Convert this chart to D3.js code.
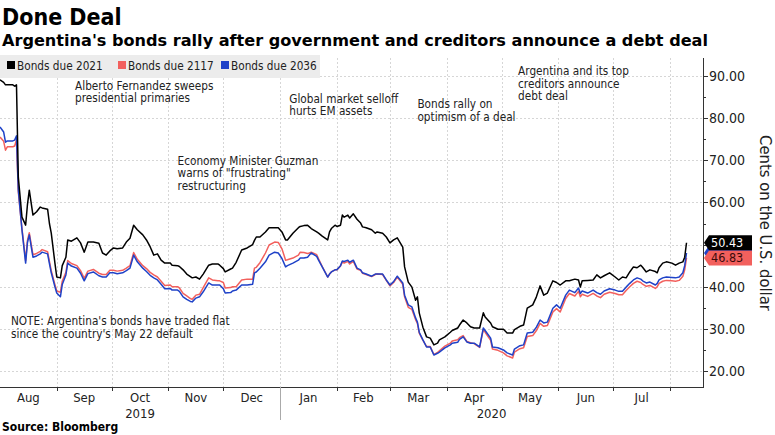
<!DOCTYPE html>
<html><head><meta charset="utf-8">
<script src="https://cdn.jsdelivr.net/npm/d3@7/dist/d3.min.js"></script>
<style>
body{margin:0;background:#fff}
svg{display:block}
text{font-family:"DejaVu Sans Condensed","DejaVu Sans",sans-serif}
</style>
</head><body>
<svg id="chart" width="775" height="435"></svg>
<script>
// ---------------- data ----------------
const dates = [
 "2019-08-01","2019-08-03","2019-08-04","2019-08-05","2019-08-08","2019-08-09","2019-08-10","2019-08-11","2019-08-13","2019-08-15","2019-08-16","2019-08-17","2019-08-19","2019-08-21","2019-08-23","2019-08-24","2019-08-27","2019-08-28","2019-08-29","2019-08-31",
 "2019-09-01","2019-09-03","2019-09-04","2019-09-06","2019-09-07","2019-09-09","2019-09-12","2019-09-14","2019-09-16","2019-09-18","2019-09-21","2019-09-24","2019-09-26","2019-09-28","2019-09-30",
 "2019-10-02","2019-10-04","2019-10-07","2019-10-09","2019-10-11","2019-10-13","2019-10-15","2019-10-18","2019-10-20","2019-10-22","2019-10-24","2019-10-26","2019-10-28","2019-10-30",
 "2019-11-02","2019-11-03","2019-11-06","2019-11-07","2019-11-09","2019-11-11","2019-11-13","2019-11-14","2019-11-16","2019-11-18","2019-11-20","2019-11-23","2019-11-25","2019-11-28","2019-11-29",
 "2019-12-01","2019-12-02","2019-12-05","2019-12-06","2019-12-08","2019-12-11","2019-12-14","2019-12-17","2019-12-18","2019-12-19","2019-12-21","2019-12-24","2019-12-26","2019-12-29","2019-12-31",
 "2020-01-02","2020-01-04","2020-01-05","2020-01-08","2020-01-11","2020-01-12","2020-01-14","2020-01-16","2020-01-17","2020-01-18","2020-01-21","2020-01-22","2020-01-24","2020-01-27","2020-01-28","2020-01-29","2020-01-31",
 "2020-02-01","2020-02-03","2020-02-04","2020-02-05","2020-02-07","2020-02-08","2020-02-10","2020-02-12","2020-02-14","2020-02-15","2020-02-17","2020-02-20","2020-02-22","2020-02-23","2020-02-26","2020-02-28",
 "2020-03-01","2020-03-03","2020-03-05","2020-03-08","2020-03-09","2020-03-11","2020-03-13","2020-03-15","2020-03-16","2020-03-17","2020-03-19","2020-03-21","2020-03-23","2020-03-25","2020-03-27","2020-03-28","2020-03-31",
 "2020-04-03","2020-04-04","2020-04-07","2020-04-08","2020-04-10","2020-04-12","2020-04-14","2020-04-16","2020-04-19","2020-04-21","2020-04-22","2020-04-25","2020-04-26","2020-04-29",
 "2020-05-02","2020-05-04","2020-05-07","2020-05-08","2020-05-11","2020-05-13","2020-05-15","2020-05-18","2020-05-20","2020-05-22","2020-05-24","2020-05-26","2020-05-29","2020-05-31",
 "2020-06-02","2020-06-05","2020-06-07","2020-06-10","2020-06-12","2020-06-13","2020-06-14","2020-06-17","2020-06-20","2020-06-22","2020-06-24","2020-06-26","2020-06-29",
 "2020-07-02","2020-07-04","2020-07-06","2020-07-08","2020-07-10","2020-07-12","2020-07-14","2020-07-16","2020-07-17","2020-07-19","2020-07-21","2020-07-24","2020-07-25","2020-07-26","2020-07-28","2020-07-30",
 "2020-08-02","2020-08-04","2020-08-06","2020-08-08","2020-08-09","2020-08-10"
];
const bonds2021 = [
 89.1,88.5,87.9,87.9,87.9,87.6,87.9,66.0,56.5,54.6,59.5,62.9,57.0,57.8,58.9,58.7,58.4,55.0,52.7,45.6,
 42.3,42.1,45.0,47.0,51.1,50.8,51.6,50.4,48.2,50.6,50.6,50.3,48.0,47.5,48.5,
 49.2,49.0,49.2,50.6,51.5,54.6,53.5,52.3,51.1,49.5,47.5,47.8,46.3,45.6,
 45.6,45.1,45.0,44.8,44.0,43.0,42.4,42.1,42.3,41.8,43.0,45.1,45.4,45.4,45.1,
 44.3,43.5,44.2,44.4,45.8,48.7,49.2,50.0,51.0,51.8,51.8,53.0,54.0,54.0,54.0,
 53.0,51.1,51.1,52.7,54.0,54.3,54.5,54.6,54.2,53.8,53.0,52.7,52.0,51.1,53.0,53.8,54.6,
 54.3,54.6,57.0,56.5,57.0,56.3,57.3,56.0,55.1,54.2,54.0,53.5,52.7,53.0,52.7,51.8,
 50.4,51.1,51.6,49.4,44.7,41.1,39.9,36.8,37.6,33.8,30.4,28.1,27.8,26.2,26.6,27.4,28.1,
 29.2,29.6,30.2,30.9,32.1,31.4,30.5,30.2,30.2,33.8,32.8,31.4,30.5,29.9,
 29.9,29.0,29.0,29.8,30.6,30.9,34.9,35.7,37.6,40.2,38.0,38.5,41.4,41.0,
 40.4,41.4,41.4,41.8,41.6,39.9,41.4,41.5,41.6,42.8,42.1,42.6,43.3,
 42.3,41.6,42.3,42.1,43.5,44.7,44.5,45.1,44.6,43.5,44.0,43.6,43.3,44.5,45.6,45.9,
 45.6,45.1,45.6,45.9,47.0,50.43
];
const bonds2117 = [
 75.5,74.5,72.4,73.2,73.2,73.4,74.8,62.5,53.8,46.2,51.0,52.8,47.6,47.9,48.4,48.8,48.3,46.0,43.8,40.5,
 39.0,38.7,41.3,43.4,46.2,45.5,45.0,43.8,42.0,43.7,44.1,43.2,42.9,42.9,43.9,
 43.9,43.7,43.9,44.4,45.0,48.1,46.5,45.0,44.3,43.4,42.8,42.3,41.3,40.3,
 40.4,40.0,40.0,39.7,38.4,37.8,37.2,37.0,38.0,38.2,39.8,42.1,41.6,41.4,41.4,
 41.0,39.7,39.8,40.0,40.0,41.6,41.8,41.8,44.4,44.6,45.7,48.0,49.9,50.6,50.5,
 49.0,46.3,46.4,46.8,47.5,48.2,48.1,47.9,48.0,48.2,47.6,46.6,44.8,42.3,43.0,43.5,44.0,
 44.0,44.9,45.9,45.6,46.0,45.4,46.0,44.2,43.9,43.2,42.9,42.4,42.9,43.0,42.9,41.5,
 40.2,41.0,42.3,40.6,37.6,35.1,34.6,32.2,31.3,29.0,27.3,25.8,25.8,23.9,24.4,24.8,25.9,
 26.6,27.1,27.4,27.9,28.4,27.0,26.7,26.5,25.6,29.9,29.2,27.3,25.2,24.9,
 24.3,23.6,23.1,24.5,25.3,25.5,28.2,28.4,29.6,31.3,30.6,30.8,34.0,34.8,
 34.0,37.2,38.4,37.8,38.9,37.6,38.2,37.7,38.4,37.8,37.4,38.2,38.7,
 38.4,38.1,38.1,39.1,40.0,40.8,41.3,41.0,40.6,40.1,40.3,39.6,40.0,40.8,41.3,41.5,
 41.4,41.3,41.5,42.5,44.0,46.83
];
const bonds2036 = [
 77.9,76.7,74.3,74.6,74.6,74.8,75.8,63.0,53.5,45.6,50.5,52.3,47.0,47.3,47.8,48.2,47.8,45.5,43.3,40.0,
 38.5,37.6,40.5,42.8,45.6,44.9,44.4,43.2,41.4,43.1,43.5,42.6,42.3,42.3,43.3,
 43.3,43.1,43.3,43.8,44.4,47.5,45.9,44.4,43.6,42.7,42.1,41.6,40.6,39.5,
 39.6,39.2,39.2,38.9,37.6,37.0,36.5,36.4,37.3,37.6,38.8,40.9,40.4,40.4,40.4,
 39.5,38.5,38.6,39.0,39.2,40.4,40.4,40.6,43.3,43.5,44.4,45.9,47.5,48.2,48.0,
 46.7,44.7,45.0,45.6,46.3,46.8,46.8,47.0,47.5,48.0,47.2,46.3,44.7,42.3,43.0,43.5,44.0,
 44.0,45.0,46.1,46.0,46.3,45.8,46.3,44.4,44.0,43.3,43.0,42.5,43.0,43.0,43.0,41.6,
 40.4,41.2,42.5,40.9,38.0,35.7,35.2,32.6,31.6,29.2,27.4,25.7,25.7,23.8,24.2,24.5,25.5,
 26.2,26.6,26.8,27.5,28.1,26.9,26.6,26.6,25.7,30.2,29.6,27.8,25.7,25.5,
 25.0,24.3,23.8,25.2,26.0,26.2,29.0,29.2,30.4,32.1,31.4,31.6,34.9,35.7,
 34.9,38.0,39.2,38.6,39.7,38.4,39.0,38.5,39.2,38.6,38.2,39.0,39.5,
 39.2,38.9,38.9,39.9,40.8,41.6,42.1,41.8,41.4,40.9,41.1,40.4,40.8,41.6,42.1,42.3,
 42.2,42.1,42.3,43.3,45.0,48.0
];
const seriesNames  = ["Bonds due 2021", "Bonds due 2117", "Bonds due 2036"];
const seriesColors = ["#000000", "#f2605d", "#1f42c8"];
const yTicks = [20, 30, 40, 50, 60, 70, 80, 90];
const yMinorTicks = [25, 35, 45, 55, 65, 75, 85];
const monthLabels = ["Aug","Sep","Oct","Nov","Dec","Jan","Feb","Mar","Apr","May","Jun","Jul"];
const yearLabels = ["2019", "2020"];
const annotationText = [
 ["Alberto Fernandez sweeps", "presidential primaries"],
 ["Economy Minister Guzman", "warns of \"frustrating\"", "restructuring"],
 ["Global market selloff", "hurts EM assets"],
 ["Bonds rally on", "optimism of a deal"],
 ["Argentina and its top", "creditors announce", "debt deal"],
 ["NOTE: Argentina's bonds have traded flat", "since the country's May 22 default"]
];
const annotationDates  = ["2019-09-11","2019-11-06","2020-01-06","2020-03-16","2020-05-10","2019-08-07"];
const annotationValues = [86.7, 68.9, 83.6, 82.4, 90.2, 30.9];
const title = "Done Deal";
const subtitle = "Argentina's bonds rally after government and creditors announce a debt deal";
const source = "Source: Bloomberg";
const axisTitle = "Cents on the U.S. dollar";

// ---------------- chart ----------------
const parse = d3.timeParse("%Y-%m-%d");
const svg = d3.select("#chart");
const plotLeft = 0, plotRight = 703, plotTop = 58, plotBottom = 387;

const x = d3.scaleTime()
  .domain([parse("2019-08-01"), parse("2020-08-19")])
  .range([plotLeft, plotRight]);
const y = d3.scaleLinear().domain([20, 90]).range([371, 76]);

svg.append("rect").attr("width", 775).attr("height", 435).attr("fill", "#fff");

// gridlines
const monthStarts = d3.timeMonth.range(parse("2019-09-01"), parse("2020-08-02"));
const grid = svg.append("g").attr("stroke", "#d6d6d6").attr("stroke-width", 1).attr("stroke-dasharray", "2,2");
grid.selectAll(".hg").data(yTicks).join("line")
  .attr("x1", plotLeft).attr("x2", plotRight)
  .attr("y1", d => Math.round(y(d)) + 0.5).attr("y2", d => Math.round(y(d)) + 0.5);
grid.selectAll(".vg").data(monthStarts).join("line")
  .attr("y1", plotTop).attr("y2", plotBottom)
  .attr("x1", d => Math.round(x(d)) + 0.5).attr("x2", d => Math.round(x(d)) + 0.5);

// legend
svg.append("rect").attr("x", 0).attr("y", 55).attr("width", 320).attr("height", 23).attr("fill", "#ececec");
const legendX = [7, 118, 221];
seriesNames.forEach((n, i) => {
  const g = svg.append("g").attr("transform", `translate(${legendX[i]},0)`);
  g.append("rect").attr("x", 0).attr("y", 61).attr("width", 8).attr("height", 8).attr("fill", seriesColors[i]);
  g.append("text").attr("x", 10).attr("y", 70).attr("font-size", 11.7).attr("fill", "#222").text(n);
});

// lines
const seriesData = [bonds2021, bonds2117, bonds2036];
const line = d3.line().x(d => x(d.date)).y(d => y(d.v));
const drawOrder = [1, 2, 0];
drawOrder.forEach(i => {
  const pts = dates.map((d, j) => ({date: parse(d), v: seriesData[i][j]}));
  svg.append("path").datum(pts).attr("d", line)
    .attr("fill", "none").attr("stroke", seriesColors[i]).attr("stroke-width", 1.5)
    .attr("stroke-linejoin", "round");
});

// x axis
const xAxis = svg.append("g").attr("transform", `translate(0,${plotBottom})`);
xAxis.append("line").attr("x1", plotLeft).attr("x2", plotRight).attr("y1", 0.5).attr("y2", 0.5).attr("stroke", "#333");
xAxis.selectAll(".tk").data(monthStarts).join("line")
  .attr("x1", d => Math.round(x(d)) + 0.5).attr("x2", d => Math.round(x(d)) + 0.5)
  .attr("y1", 0).attr("y2", 4).attr("stroke", "#333");
const monthBounds = d3.timeMonth.range(parse("2019-08-01"), parse("2020-08-01"));
xAxis.selectAll(".ml").data(monthBounds).join("text")
  .attr("x", d => (x(d) + x(d3.timeMonth.offset(d, 1))) / 2)
  .attr("y", 14.5).attr("text-anchor", "middle").attr("font-size", 13).attr("fill", "#222")
  .text((d, i) => monthLabels[i]);
const yearStart = parse("2020-01-01");
xAxis.append("line").attr("x1", Math.round(x(yearStart)) + 0.5).attr("x2", Math.round(x(yearStart)) + 0.5)
  .attr("y1", 0).attr("y2", 33).attr("stroke", "#aaa");
const yearCenters = [(x.range()[0] + x(yearStart)) / 2, (x(yearStart) + x.range()[1]) / 2];
yearLabels.forEach((t, i) => {
  xAxis.append("text").attr("x", yearCenters[i]).attr("y", 30.5).attr("text-anchor", "middle")
    .attr("font-size", 13).attr("fill", "#222").text(t);
});

// end-label positions (used to hide covered tick labels)
const lastIdx = dates.length - 1;
const labelYs = [y(bonds2021[lastIdx]), y(bonds2117[lastIdx])];

// y axis (right)
const yAxis = svg.append("g").attr("transform", `translate(${plotRight},0)`);
yAxis.append("line").attr("x1", 0.5).attr("x2", 0.5).attr("y1", plotTop).attr("y2", plotBottom + 1).attr("stroke", "#333");
yAxis.selectAll(".mj").data(yTicks).join("line")
  .attr("x1", 0).attr("x2", 5).attr("y1", d => Math.round(y(d)) + 0.5).attr("y2", d => Math.round(y(d)) + 0.5).attr("stroke", "#333");
yAxis.selectAll(".mn").data(yMinorTicks).join("line")
  .attr("x1", 0).attr("x2", 3).attr("y1", d => Math.round(y(d)) + 0.5).attr("y2", d => Math.round(y(d)) + 0.5).attr("stroke", "#333");
yAxis.selectAll(".yl").data(yTicks.filter(t => labelYs.every(ly => Math.abs(y(t) - ly) > 12))).join("text")
  .attr("x", 6).attr("y", d => y(d) + 5).attr("font-size", 14).attr("fill", "#222")
  .text(d => d.toFixed(2));
svg.append("text").attr("transform", "translate(760,223) rotate(90)")
  .attr("text-anchor", "middle").attr("font-size", 16.5).attr("fill", "#222").text(axisTitle);

// end labels (the 2036 label sits hidden behind the others, only its tip shows)
const labelOrder = [2, 1, 0];
const labelTextColor = ["#fff", "#3a0a0a", "#fff"];
labelOrder.forEach(i => {
  const v = seriesData[i][lastIdx];
  const cy = y(v);
  const g = svg.append("g");
  g.append("path")
    .attr("d", `M${plotRight + 1},${cy} L${plotRight + 6},${cy - 7.5} L${plotRight + 49},${cy - 7.5} L${plotRight + 49},${cy + 7.5} L${plotRight + 6},${cy + 7.5} Z`)
    .attr("fill", seriesColors[i]);
  if (i !== 2) {
    g.append("text").attr("x", plotRight + 8).attr("y", cy + 4.5).attr("font-size", 12.5)
      .attr("fill", labelTextColor[i]).text(v.toFixed(2));
  }
});

// annotations
annotationText.forEach((lines, i) => {
  const ax = x(parse(annotationDates[i])), ay = y(annotationValues[i]);
  const t = svg.append("text").attr("font-size", 11.7).attr("fill", "#222");
  lines.forEach((l, k) => t.append("tspan").attr("x", ax).attr("y", ay + k * 12.5).text(l));
});

// titles
svg.append("text").attr("x", 2).attr("y", 25).attr("font-size", 23).attr("font-weight", "bold")
  .attr("fill", "#000").text(title);
svg.append("text").attr("x", 2).attr("y", 46).attr("font-size", 16.5).attr("font-weight", "bold")
  .attr("fill", "#000").attr("textLength", 706).attr("lengthAdjust", "spacingAndGlyphs").text(subtitle);
svg.append("text").attr("x", 2).attr("y", 431).attr("font-size", 12).attr("font-weight", "bold")
  .attr("fill", "#000").text(source);
</script>
</body></html>
